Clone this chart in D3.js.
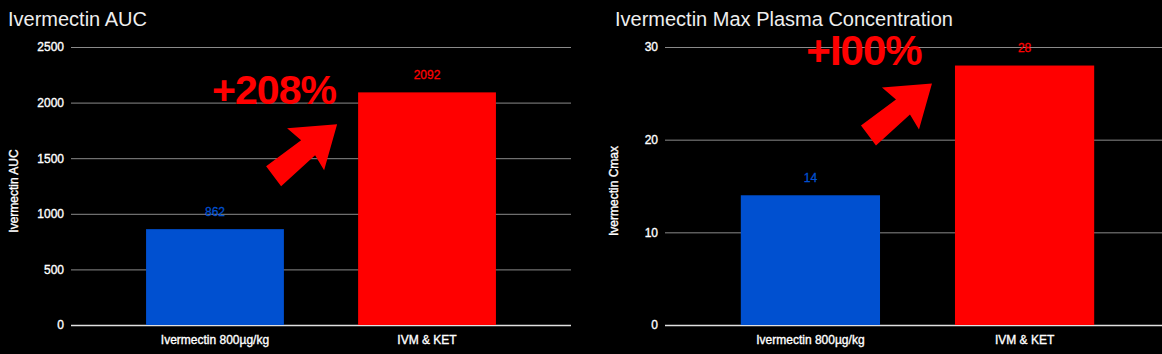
<!DOCTYPE html>
<html>
<head>
<meta charset="utf-8">
<script src="https://cdn.jsdelivr.net/npm/d3@7"></script>
<style>
  html, body { margin: 0; padding: 0; background: #000; }
  svg { display: block; font-family: "Liberation Sans", Arial, sans-serif; }
</style>
</head>
<body>
<div id="chart"></div>
<script>
/* data */
const categories = ["Ivermectin 800µg/kg", "IVM & KET"];
const aucValues = [862, 2092];
const cmaxValues = [14, 28];
const aucTicks = [0, 500, 1000, 1500, 2000, 2500];
const cmaxTicks = [0, 10, 20, 30];
const barColors = ["#0050d0", "#ff0000"];
const increaseLabels = ["+208%", "+I00%"];

const width = 1162, height = 354;

const svg = d3.select("#chart")
    .append("svg")
    .attr("width", width)
    .attr("height", height);

svg.append("rect").attr("width", width).attr("height", height).attr("fill", "#000");

// arrow outline, relative to its tip
const arrowShape = [[0,0],[-50,4],[-36,16],[-71,42],[-56,62],[-22,31],[-13,46]];

const charts = [
    {title: "Ivermectin AUC", yTitle: "Ivermectin AUC", values: aucValues, ticks: aucTicks,
     left: 71, right: 571, titleX: 8, yTitleX: 14,
     note: increaseLabels[0], noteX: 274, noteY: 104, noteSize: 41, arrowDx: -21, arrowDy: 32},
    {title: "Ivermectin Max Plasma Concentration", yTitle: "Ivermectin Cmax", values: cmaxValues, ticks: cmaxTicks,
     left: 665, right: 1170, titleX: 615, yTitleX: 614,
     note: increaseLabels[1], noteX: 864, noteY: 65, noteSize: 42, arrowDx: -23, arrowDy: 18}
];

const plotTop = 47, plotBottom = 325;

// small labels in the picture look a bit heavier than plain regular
function heavy(sel, color) {
    sel.attr("fill", color).attr("stroke", color).attr("stroke-width", 0.35);
}

charts.forEach(function(c) {
    const g = svg.append("g");

    const x = d3.scaleBand()
        .domain(categories)
        .range([c.left, c.right])
        .paddingInner(0.35)
        .paddingOuter(0.354);

    const y = d3.scaleLinear()
        .domain([0, d3.max(c.ticks)])
        .range([plotBottom, plotTop]);

    // title
    g.append("text")
        .attr("x", c.titleX)
        .attr("y", 26)
        .attr("fill", "#eee")
        .attr("font-size", 20)
        .text(c.title);

    // gridlines + tick labels
    const yAxis = g.append("g")
        .attr("transform", `translate(${c.left},0)`)
        .call(d3.axisLeft(y).tickValues(c.ticks).tickFormat(d3.format("d"))
            .tickSize(-(c.right - c.left)).tickPadding(7));
    yAxis.select(".domain").remove();
    yAxis.selectAll(".tick line")
        .attr("stroke", function(d) { return d === 0 ? "#e0e0e0" : "#8a8a8a"; })
        .attr("stroke-width", function(d) { return d === 0 ? 1.5 : 1; });
    yAxis.selectAll(".tick text")
        .attr("font-size", 12)
        .attr("font-family", "Liberation Sans, Arial, sans-serif")
        .call(heavy, "#fff");

    // y axis title
    g.append("text")
        .attr("transform", `translate(${c.yTitleX + 4},191) rotate(-90)`)
        .attr("text-anchor", "middle")
        .attr("font-size", 12)
        .call(heavy, "#fff")
        .text(c.yTitle);

    // bars
    const rows = categories.map(function(cat, i) { return {cat: cat, value: c.values[i], color: barColors[i]}; });

    g.selectAll("rect.bar")
        .data(rows)
        .enter()
        .append("rect")
        .attr("class", "bar")
        .attr("x", function(d) { return x(d.cat); })
        .attr("y", function(d) { return y(d.value); })
        .attr("width", x.bandwidth())
        .attr("height", function(d) { return plotBottom - y(d.value); })
        .attr("fill", function(d) { return d.color; });

    // value labels
    g.selectAll("text.value")
        .data(rows)
        .enter()
        .append("text")
        .attr("class", "value")
        .attr("x", function(d) { return x(d.cat) + x.bandwidth() / 2; })
        .attr("y", function(d) { return y(d.value) - 13.5; })
        .attr("text-anchor", "middle")
        .attr("font-size", 12)
        .attr("fill", function(d) { return d.color; })
        .attr("stroke", function(d) { return d.color; })
        .attr("stroke-width", 0.3)
        .text(function(d) { return d.value; });

    // category labels
    g.selectAll("text.cat")
        .data(categories)
        .enter()
        .append("text")
        .attr("class", "cat")
        .attr("x", function(d) { return x(d) + x.bandwidth() / 2; })
        .attr("y", 344)
        .attr("text-anchor", "middle")
        .attr("font-size", 12)
        .call(heavy, "#fff")
        .text(function(d) { return d; });

    // big red annotation
    g.append("text")
        .attr("x", c.noteX)
        .attr("y", c.noteY)
        .attr("text-anchor", "middle")
        .attr("font-size", c.noteSize)
        .attr("font-weight", "bold")
        .attr("letter-spacing", -1)
        .attr("fill", "#ff0000")
        .text(c.note);

    const tipX = x(categories[1]) + c.arrowDx;
    const tipY = y(c.values[1]) + c.arrowDy;
    g.append("polygon")
        .attr("points", arrowShape.map(function(p) { return [tipX + p[0], tipY + p[1]].join(","); }).join(" "))
        .attr("fill", "#ff0000");
});
</script>
</body>
</html>
